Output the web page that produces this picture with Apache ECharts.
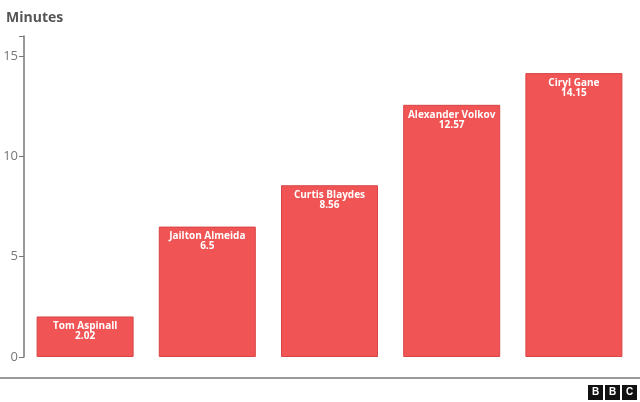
<!DOCTYPE html>
<html><head><meta charset="utf-8">
<script src="https://cdn.jsdelivr.net/npm/echarts@6/dist/echarts.min.js"></script>
<style>html,body{margin:0;padding:0;background:#fff}#c{width:640px;height:402px}</style>
</head><body><div id="c"></div>
<script>
var categories = ["Tom Aspinall", "Jailton Almeida", "Curtis Blaydes", "Alexander Volkov", "Ciryl Gane"];
var values = [2.02, 6.5, 8.56, 12.57, 14.15];
var yTicks = [0, 5, 10, 15];

var chart = echarts.init(document.getElementById('c'));
chart.setOption({
  animation: false,
  title: {text: 'Minutes', left: 1, top: 6, textStyle: {fontFamily: 'Open Sans', fontSize: 14, fontWeight: 'bold', color: '#555'}},
  grid: {left: 24, right: 5, top: 36, bottom: 45},
  xAxis: {type: 'category', data: categories, axisLine: {show: false}, axisTick: {show: false}, axisLabel: {show: false}},
  yAxis: {type: 'value', min: 0, max: 16, interval: 5,
    axisLine: {show: true, lineStyle: {color: '#777', width: 1.5}},
    axisTick: {show: true, length: 5, lineStyle: {color: '#777'}},
    axisLabel: {color: '#777', fontFamily: 'Open Sans', fontSize: 13, margin: 6,
      formatter: function(v){ return yTicks.indexOf(v) >= 0 ? String(v) : ''; }},
    splitLine: {show: false}},
  series: [{type: 'bar', data: values, barWidth: 97,
    itemStyle: {color: '#F05454', borderColor: '#d94444', borderWidth: 1},
    label: {show: true, position: 'insideTop', distance: 5, color: '#fff', fontFamily: 'Open Sans', fontWeight: 'bold', fontSize: 10, lineHeight: 10,
      formatter: function(p){ return p.name + '\n' + p.value; }}}],
  graphic: [
    {type: 'rect', shape: {x: 0, y: 377, width: 640, height: 2}, style: {fill: '#999'}},
    {type: 'group', left: 588, top: 385, children: [
      {type: 'rect', shape: {x: 0, y: 0, width: 15, height: 15}, style: {fill: '#111'}},
      {type: 'text', x: 7.5, y: 7.5, style: {text: 'B', fill: '#fff', font: 'bold 10px Arial', align: 'center', verticalAlign: 'middle'}},
      {type: 'rect', shape: {x: 17, y: 0, width: 15, height: 15}, style: {fill: '#111'}},
      {type: 'text', x: 24.5, y: 7.5, style: {text: 'B', fill: '#fff', font: 'bold 10px Arial', align: 'center', verticalAlign: 'middle'}},
      {type: 'rect', shape: {x: 34, y: 0, width: 15, height: 15}, style: {fill: '#111'}},
      {type: 'text', x: 41.5, y: 7.5, style: {text: 'C', fill: '#fff', font: 'bold 10px Arial', align: 'center', verticalAlign: 'middle'}}
    ]}
  ]
});
</script></body></html>
